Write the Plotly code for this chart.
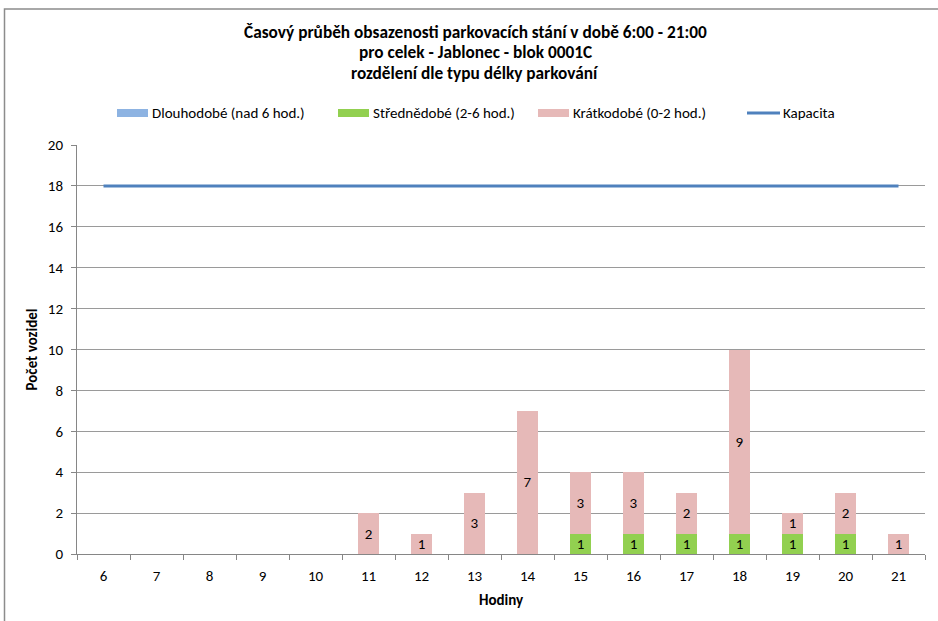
import plotly.graph_objects as go

hours = [str(h) for h in range(6, 22)]
dlouhodobe = [0, 0, 0, 0, 0, 0, 0, 0, 0, 0, 0, 0, 0, 0, 0, 0]
strednedobe = [0, 0, 0, 0, 0, 0, 0, 0, 0, 1, 1, 1, 1, 1, 1, 0]
kratkodobe = [0, 0, 0, 0, 0, 2, 1, 3, 7, 3, 3, 2, 9, 1, 2, 1]
kapacita = [18] * 16

y_ticks = list(range(0, 21, 2))

series_names = ["Dlouhodobé (nad 6 hod.)", "Střednědobé (2-6 hod.)",
                "Krátkodobé (0-2 hod.)", "Kapacita"]
colors = ["#8DB3E2", "#92D050", "#E6B9B8", "#4F81BD"]
title_lines = ["Časový průběh obsazenosti parkovacích stání v době 6:00 - 21:00",
               "pro celek - Jablonec - blok 0001C",
               "rozdělení dle typu délky parkování"]

FONT = "Carlito, Calibri, Lato, 'Open Sans', sans-serif"

def labels(vals):
    return [str(v) if v else "" for v in vals]

fig = go.Figure()
for vals, name, col in zip([dlouhodobe, strednedobe, kratkodobe], series_names[:3], colors[:3]):
    fig.add_trace(go.Bar(x=hours, y=vals, name=name,
                         marker=dict(color=col, line=dict(width=0)), text=labels(vals),
                         textposition="inside", insidetextanchor="middle", textangle=0,
                         constraintext="none",
                         textfont=dict(color="black", size=15), hoverinfo="y"))
fig.add_trace(go.Scatter(x=hours, y=kapacita, name=series_names[3], mode="lines",
                         line=dict(color=colors[3], width=3)))

L, R, T, B = 77, 13, 145, 67
W, H = 938, 621
pw, ph = W - L - R, H - T - B

def px_x(x):
    return (x - L) / pw

def px_y(y):
    return (554 - y) / ph

shapes = [dict(type="rect", xref="paper", yref="paper",
               x0=px_x(4.5), x1=1.2, y0=-0.5, y1=px_y(9),
               line=dict(color="#8C8C8C", width=1.5), fillcolor="rgba(0,0,0,0)", layer="below")]
annotations = []
# title lines
for ty, line in zip([32, 52.5, 73], title_lines):
    annotations.append(dict(xref="paper", yref="paper", x=px_x(475), y=px_y(ty),
                            text="<b>" + line + "</b>", showarrow=False,
                            xanchor="center", yanchor="middle",
                            font=dict(size=17.3, color="black")))
# manual legend
leg_y = 113
swatch_x = [117, 338, 538]
for sx, name, col in zip(swatch_x, series_names[:3], colors[:3]):
    shapes.append(dict(type="rect", xref="paper", yref="paper",
                       x0=px_x(sx), x1=px_x(sx + 31), y0=px_y(leg_y + 4), y1=px_y(leg_y - 4),
                       line=dict(width=0), fillcolor=col))
    annotations.append(dict(xref="paper", yref="paper", x=px_x(sx + 33), y=px_y(leg_y),
                            text=name, showarrow=False, xanchor="left", yanchor="middle",
                            font=dict(size=15, color="black")))
shapes.append(dict(type="line", xref="paper", yref="paper",
                   x0=px_x(747), x1=px_x(780), y0=px_y(leg_y), y1=px_y(leg_y),
                   line=dict(color=colors[3], width=3)))
annotations.append(dict(xref="paper", yref="paper", x=px_x(781), y=px_y(leg_y),
                        text=series_names[3], showarrow=False, xanchor="left", yanchor="middle",
                        font=dict(size=15, color="black")))

fig.update_layout(
    width=W, height=H,
    margin=dict(l=L, r=R, t=T, b=B, autoexpand=False),
    paper_bgcolor="white", plot_bgcolor="white",
    font=dict(family=FONT, size=15, color="black"),
    barmode="stack", bargap=0.6,
    showlegend=False,
    xaxis=dict(type="category", title=dict(text="<b>Hodiny</b>", font=dict(size=15), standoff=10),
               showline=True, linecolor="#868686", linewidth=1,
               ticks="outside", ticklen=5, tickcolor="#868686", tickson="boundaries",
               ticklabelstandoff=8,
               showgrid=False, fixedrange=True),
    yaxis=dict(range=[0, 20], tickvals=y_ticks, title=dict(text="<b>Počet vozidel</b>", font=dict(size=15), standoff=6),
               showline=True, linecolor="#868686", linewidth=1,
               ticks="outside", ticklen=5, tickcolor="#868686", ticklabelstandoff=5,
               showgrid=True, gridcolor="#9A9A9A", gridwidth=1, zeroline=False, fixedrange=True),
    shapes=shapes,
    annotations=annotations,
)

fig.write_html("out.html", post_script="document.body.style.margin='0';",
               config={"displayModeBar": False})
